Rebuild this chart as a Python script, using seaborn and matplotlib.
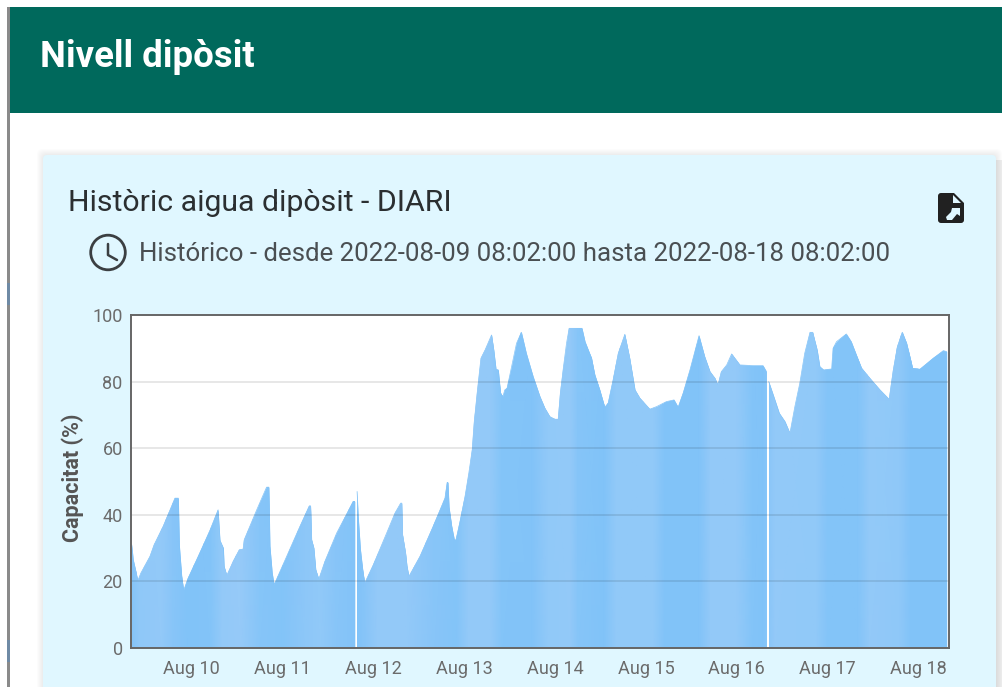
import numpy as np
import pandas as pd
import matplotlib
matplotlib.use('Agg')
import matplotlib.pyplot as plt
import matplotlib.dates as mdates
from matplotlib.colors import LinearSegmentedColormap
from matplotlib.patches import Rectangle, Circle, Polygon, FancyBboxPatch
from matplotlib.path import Path
import seaborn as sns

start = pd.Timestamp('2022-08-09 08:02:00')

# hours after the start of the window, nan = gap in the data
hours = [0.2, 0.6, 1.3, 1.8, 2.6, 5.0, 6.1, 8.5, 11.6, 12.5, 12.8, 13.4, 13.9, 15.1, 17.8, 20.9,
         23.0, 23.5, 24.4, 24.6, 25.3, 27.0, 28.6, 29.6, 29.9, 33.2, 35.8, 36.4, 36.7, 37.3, 37.8,
         41.1, 44.6, 47.1, 47.4, 47.7, 48.3, 48.8, 49.6, 51.2, 54.3, 58.7, 59.1, 59.4, 59.7, 60.0,
         60.6, 61.2, 61.7, 64.0, 67.5, 69.7, 71.2, 71.5, 71.7, 72.5, 72.9, 73.4, 76.3, 79.8, 82.9,
         83.5, 83.7, 84.0, 84.7, 85.4, 85.8, 87.0, 88.2, 89.2, 90.1, 90.6, 91.4, 92.4, 93.5, 95.2,
         95.8, 96.4, 97.0, 97.6, 98.2, 98.7, 99.3, 100.5, 101.8, 103.1, 104.4, 106.2, 108.0, 109.3,
         110.6, 111.9, 112.8, 113.4, 114.1, 115.0, 115.7, 119.1, 119.9, 121.6, 122.5, 123.8, 125.1,
         126.0, 127.3, 128.7, 130.4, 131.7, 133.1, 134.4, 137.0, 138.8, 141.4, 143.4, 144.5, 145.8,
         147.6, 150.0, 151.5, 152.9, 154.2, 155.0, 155.9, 157.3, 158.6, 160.8, 164.3, 166.9, 167.8,
         168.1, 168.4, 169.6, 171.2, 172.7, 174.0, 175.3, 176.6, 177.9, 179.3, 180.0, 181.2, 181.9,
         182.9, 185.0, 185.4, 186.3, 188.9, 190.2, 192.9, 195.1, 197.8, 200.2, 201.3, 202.4, 203.7,
         204.8, 206.4, 208.3, 211.9, 214.5, 215.4]
level = [31, 26.5, 23, 20.2, 22.5, 27.5, 31, 36.5, 45, 45, 30.5, 21.5, 17.3, 21, 27.5, 35.5,
         41.5, 32.3, 30, 24.5, 21.8, 26, 29.5, 29.7, 32.5, 41.5, 48.3, 48.3, 30.5, 22.5, 19,
         27.5, 36.5, 42.7, 42.7, 32.5, 30, 23.5, 20.7, 26, 34.5, 44, 44, np.nan, 47, 39.5,
         29.5, 23.5, 19.5, 25, 34.5, 40.5, 43.5, 43.5, 34, 28.5, 24.5, 21.5, 27.5, 36.5, 45,
         49.7, 49.7, 42.3, 36.5, 32.5, 32.5, 38.5, 45.5, 52.5, 59.5, 67.5, 76.5, 87, 89.5, 94,
         89.5, 83.7, 83.5, 76.5, 75.5, 77.5, 78, 84.5, 91.5, 94.8, 88.5, 81.5, 75.5, 72,
         69.5, 68.7, 68.7, 76.5, 83.5, 91.5, 96, 96, 92, 87, 82, 77.5, 72.3,
         73.5, 80.5, 88.5, 94.2, 87, 77.5, 75, 71.7, 72.5, 74, 74.5, 72.3, 76.5,
         83.5, 93.8, 87.5, 83, 81, 79, 83, 85, 88.3, 85, 84.8, 84.8, 83,
         np.nan, 80, 76, 70.5, 68, 64.5, 72.5, 79.5, 88.5, 94.8, 94.8, 89.5, 84.5,
         83.5, 83.8, 90, 92, 94.3, 92, 84, 81, 77.5, 74.7, 83.5, 90.5, 94.8,
         91.5, 84, 83.7, 87, 89.3, 89]

# the soft vertical banding of the area (0 darker, 1 lighter)
band_hours = [0, 2, 8, 11, 15, 21, 24, 29, 34, 40, 46, 50, 54, 60, 62, 65, 73, 80, 86, 89, 95, 98,
              106, 110, 116, 118, 125, 128, 138, 141, 150, 153, 160, 164, 167, 170, 181, 184, 192,
              195, 203, 206, 216]
band_shade = [0.1, 0.6, 0.8, 0.3, 0, 0.1, 0.8, 0.9, 0.2, 0.1, 0.5, 0.7, 0.3, 0.05, 0.3, 0.8, 0.8,
              0.3, 0.1, 0.8, 0.8, 0.1, 0.05, 0.7, 0.8, 0.2, 0, 0.7, 0.7, 0, 0, 0.8, 0.8, 0.1, 0,
              0.8, 0.7, 0.1, 0.1, 0.8, 0.6, 0, 0]

day_ticks = ['2022-08-10', '2022-08-11', '2022-08-12', '2022-08-13', '2022-08-14',
             '2022-08-15', '2022-08-16', '2022-08-17', '2022-08-18']
day_labels = ['Aug 10', 'Aug 11', 'Aug 12', 'Aug 13', 'Aug 14', 'Aug 15', 'Aug 16', 'Aug 17', 'Aug 18']
y_ticks = [0, 20, 40, 60, 80, 100]

sns.set_theme(style='white')
plt.rcParams['font.family'] = ['Roboto', 'DejaVu Sans']

W, H = 1003, 687
fig = plt.figure(figsize=(W / 100, H / 100), dpi=100, facecolor='white')

# page behind the chart, in pixels
page = fig.add_axes([0, 0, 1, 1], zorder=0)
page.set_xlim(0, W)
page.set_ylim(H, 0)
page.axis('off')
page.add_patch(Rectangle((7, 7), 3, H, color='#8a8a8a', lw=0))
page.add_patch(Rectangle((7, 283), 3, 22, color='#6f8aa5', lw=0))
page.add_patch(Rectangle((7, 640), 3, 22, color='#6f8aa5', lw=0))
page.add_patch(Rectangle((10, 7), W, 106, color='#00695c', lw=0))
page.add_patch(Rectangle((996, 160), 7, H, color='#eeeeee', lw=0))
for i in range(7):
    page.add_patch(FancyBboxPatch((43 - i, 155 - i), 953 + 2 * i, 600,
                                  boxstyle='round,pad=0,rounding_size=5', color='black', alpha=0.012, lw=0))
page.add_patch(FancyBboxPatch((43, 155), 953, 600, boxstyle='round,pad=0,rounding_size=4',
                              color='#e0f7ff', lw=0))
page.text(40, 57, 'Nivell dipòsit', color='white', fontsize=26.3, fontweight='bold', va='center')
page.text(68, 203, 'Històric aigua dipòsit - DIARI', color='#2b2f31', fontsize=21.8, va='center')
page.text(139, 254, 'Histórico - desde 2022-08-09 08:02:00 hasta 2022-08-18 08:02:00',
          color='#4a4f52', fontsize=18.6, va='center')
# clock icon
page.add_patch(Circle((108, 252.5), 17.3, fill=False, ec='#3b3f42', lw=2))
page.plot([108, 108, 117], [244, 255, 260], color='#3b3f42', lw=1.8)
# export icon
page.add_patch(FancyBboxPatch((938, 193), 26, 30, boxstyle='round,pad=0,rounding_size=3',
                              color='#212121', lw=0))
page.add_patch(Polygon([[953, 192], [965, 192], [965, 204]], color='#e0f7ff', lw=0))
page.add_patch(Polygon([[953, 195], [953, 203], [961, 203]], color='#e0f7ff', lw=0))
page.add_patch(Polygon([[952, 208], [960, 208], [960, 216], [957, 214], [952, 220], [947, 220], [946, 217], [951, 212]],
                       color='#e0f7ff', lw=0))

# the chart itself
ax = fig.add_axes([131 / W, 1 - 648 / H, 818 / W, 333 / H], zorder=1, facecolor='white')
df = pd.DataFrame({'hours': hours, 'level': level})
df['time'] = start + pd.to_timedelta(df['hours'], unit='h')
df['part'] = df['level'].isna().cumsum()
df = df.dropna()

sns.lineplot(data=df, x='time', y='level', units='part', estimator=None, color='#81c3f8',
             linewidth=0.5, ax=ax, zorder=2)
paths = []
for _, part in df.groupby('part'):
    poly = ax.fill_between(part['time'], 0, part['level'], color='#81c3f8', lw=0, zorder=2)
    paths += poly.get_paths()

band_times = mdates.date2num(start + pd.to_timedelta(band_hours, unit='h'))
cmap = LinearSegmentedColormap.from_list('bands', ['#81c3f8', '#98cbf8'])
mesh = ax.pcolormesh(band_times, [0, 100], np.array([band_shade, band_shade]), cmap=cmap,
                     vmin=0, vmax=1, shading='gouraud', zorder=2.5)
mesh.set_clip_path(Path.make_compound_path(*paths), ax.transData)

ax.set_xlim(start, start + pd.Timedelta(hours=216))
ax.set_ylim(0, 100)
ax.set_xticks(pd.to_datetime(day_ticks))
ax.set_xticklabels(day_labels)
ax.set_yticks(y_ticks)
ax.tick_params(axis='both', length=0, labelsize=13, labelcolor='#6b6b6b')
ax.tick_params(axis='x', pad=9)
ax.tick_params(axis='y', pad=6)
ax.set_xlabel('')
ax.set_ylabel('Capacitat (%)', fontsize=15.5, fontweight='bold', color='#555555')
ax.yaxis.set_label_coords(-0.0574, 0.51)
ax.grid(axis='y', color='black', alpha=0.12, lw=1.1)
ax.grid(axis='x', visible=False)
ax.set_axisbelow(False)
for side in ax.spines.values():
    side.set_color('#666666')
    side.set_linewidth(1.4)
    side.set_zorder(5)

fig.savefig('out.png', dpi=100)
